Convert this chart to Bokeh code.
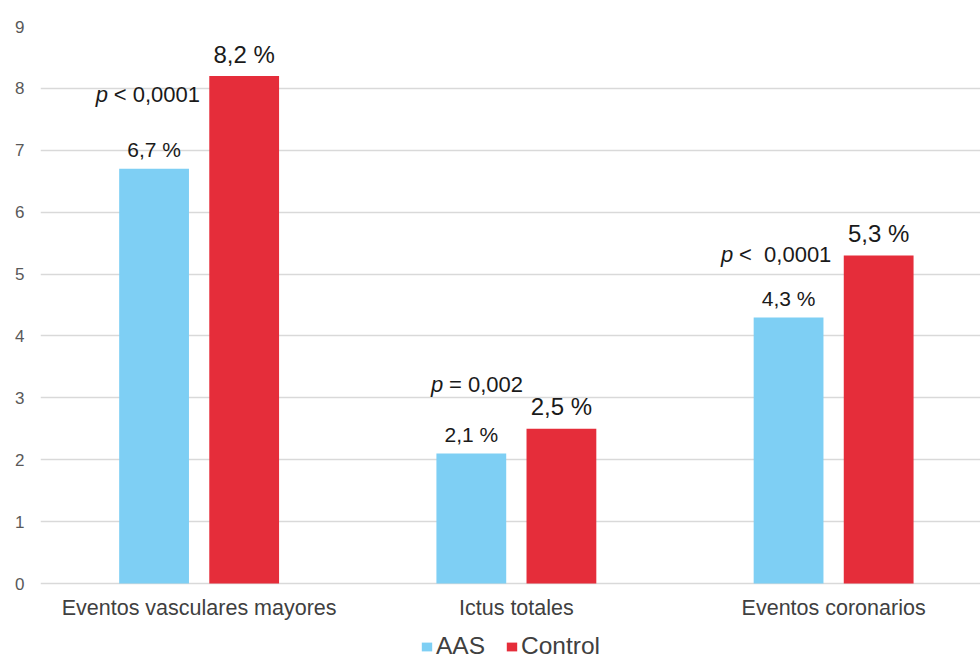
from bokeh.plotting import figure
from bokeh.models import ColumnDataSource, Range1d, FixedTicker, Legend, LegendItem
from bokeh.transform import dodge
from bokeh.core.properties import value
from bokeh.embed import file_html
from bokeh.resources import INLINE

# ---------------- data ----------------
categories = ["Eventos vasculares mayores", "Ictus totales", "Eventos coronarios"]
series_names = ["AAS", "Control"]
aas_values = [6.7, 2.1, 4.3]
control_values = [8.2, 2.5, 5.3]
p_prefix = ["p", "p", "p"]
p_texts = ["< 0,0001", "= 0,002", "<\u00a0\u00a00,0001"]
p_label_y = [7.77, 3.09, 5.19]
y_ticks = [0, 1, 2, 3, 4, 5, 6, 7, 8, 9]

# ---------------- style / layout ----------------
FONT = "Liberation Sans"
AAS_COLOR = "#7ecff4"
CONTROL_COLOR = "#e52d3a"
GRID_COLOR = "#d9d9d9"
TICK_COLOR = "#595959"
BAR_W = 0.22
DODGE = 0.142
P_DX = [-0.326, -0.269, -0.355]
Y_MIN = -1.244  # room under the baseline for category labels and legend


def fmt(v):
    return f"{v:.1f}".replace(".", ",") + " %"


xpos = [i + 0.5 for i in range(len(categories))]
src = ColumnDataSource(dict(
    x=xpos,
    zero=[0] * len(categories),
    cat=categories,
    aas=aas_values,
    control=control_values,
    aas_lbl=[fmt(v) for v in aas_values],
    ctl_lbl=[fmt(v) for v in control_values],
    p=p_prefix,
    p_txt=p_texts,
    p_y=p_label_y,
    p_x=[xi + d for xi, d in zip(xpos, P_DX)],
))

p = figure(frame_width=940, frame_height=634, output_backend="svg", toolbar_location=None,
           x_range=Range1d(0, 2.963), y_range=Range1d(Y_MIN, 9),
           x_axis_location=None,
           min_border_left=40, min_border_right=0, min_border_top=26,
           min_border_bottom=0)
p.outline_line_color = None
p.background_fill_color = "white"
p.border_fill_color = "white"

r_aas = p.vbar(x=dodge("x", -DODGE, range=p.x_range), top="aas", width=BAR_W,
               source=src, fill_color=AAS_COLOR, line_color=None)
r_ctl = p.vbar(x=dodge("x", DODGE, range=p.x_range), top="control", width=BAR_W,
               source=src, fill_color=CONTROL_COLOR, line_color=None)

p.text(x=dodge("x", -DODGE, range=p.x_range), y="aas", text="aas_lbl", source=src,
       text_align="center", text_baseline="alphabetic", y_offset=-19,
       text_font=value(FONT), text_font_size="21px", text_color="#1a1a1a")
p.text(x=dodge("x", DODGE, range=p.x_range), y="control", text="ctl_lbl", source=src,
       text_align="center", text_baseline="alphabetic", y_offset=-22,
       text_font=value(FONT), text_font_size="24px", text_color="#1a1a1a")

p.text(x="p_x", y="p_y", text="p", source=src, text_align="left", y_offset=-8,
       text_baseline="alphabetic", text_font=value(FONT), text_font_style="italic",
       text_font_size="22px", text_color="#1a1a1a")
p.text(x="p_x", y="p_y", text="p_txt", source=src, text_align="left", x_offset=18,
       y_offset=-8, text_baseline="alphabetic", text_font=value(FONT),
       text_font_size="22px", text_color="#1a1a1a")

# category labels under the baseline
p.text(x="x", y="zero", text="cat", source=src, text_align="center",
       text_baseline="middle", y_offset=24, text_font=value(FONT),
       text_font_size="21.5px", text_color="#404040")

# y axis
p.yaxis.ticker = FixedTicker(ticks=y_ticks)
p.yaxis.axis_line_color = None
p.yaxis.major_tick_line_color = None
p.yaxis.major_tick_out = 0
p.yaxis.major_tick_in = 0
p.yaxis.minor_tick_line_color = None
p.yaxis.major_label_standoff = 16
p.yaxis.major_label_text_font = FONT
p.yaxis.major_label_text_font_size = "17px"
p.yaxis.major_label_text_color = TICK_COLOR

p.xgrid.grid_line_color = None
p.ygrid.ticker = FixedTicker(ticks=y_ticks)
p.ygrid.grid_line_color = GRID_COLOR
p.ygrid.grid_line_width = 1.3

legend = Legend(items=[LegendItem(label=series_names[0], renderers=[r_aas]),
                       LegendItem(label=series_names[1], renderers=[r_ctl])],
                orientation="horizontal", location="bottom_center",
                border_line_color=None, background_fill_alpha=0,
                label_text_font=FONT, label_text_font_size="24.5px",
                label_text_color="#404040", label_height=24,
                glyph_width=13, glyph_height=11, spacing=20, label_standoff=3,
                padding=0, margin=0)
p.add_layout(legend, "center")

open("out.html", "w").write(file_html(p, INLINE))
